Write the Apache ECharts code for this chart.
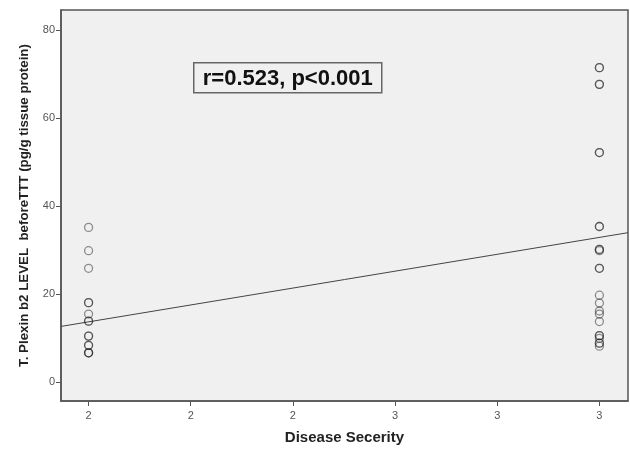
<!DOCTYPE html>
<html>
<head>
<meta charset="utf-8">
<script src="https://cdn.jsdelivr.net/npm/echarts@6/dist/echarts.min.js"></script>
<style>
  html, body { margin: 0; padding: 0; background: #fff; }
  #chart { width: 630px; height: 450px; }
</style>
</head>
<body>
<div id="chart"></div>
<script>
// x = disease severity group, y = Plexin b2 level
var groupTwo = [35.1, 29.8, 25.8, 18.0, 18.0, 15.4, 13.8, 13.8, 10.4, 10.4, 8.3, 8.3, 6.6, 6.6, 6.6];
var groupThree = [71.4, 71.4, 67.6, 67.6, 52.1, 52.1, 35.3, 35.3, 30.1, 30.1, 29.8, 25.8, 25.8,
                  19.7, 17.9, 16.1, 15.4, 13.7, 10.5, 10.5, 9.9, 8.8, 8.8, 8.1];
var xTicks = [2, 2.2, 2.4, 2.6, 2.8, 3];
var yTicks = [0, 20, 40, 60, 80];
// fit line end points (x, y)
var fitLine = [[1.946, 12.6], [3.056, 33.9]];
var statText = 'r=0.523, p<0.001';

var points = [];
groupTwo.forEach(function (v) { points.push([2, v]); });
groupThree.forEach(function (v) { points.push([3, v]); });

var chart = echarts.init(document.getElementById('chart'));
var font = 'Liberation Sans, Arial, sans-serif';

var option = {
    animation: false,
    grid: {
        left: 61, right: 2, top: 10, bottom: 45,
        show: true,
        backgroundColor: '#f0f0f0',
        borderColor: '#555',
        borderWidth: 1.5
    },
    xAxis: {
        type: 'value',
        min: 1.946, max: 3.056,
        name: 'Disease Secerity',
        nameLocation: 'middle',
        nameGap: 29,
        nameTextStyle: { fontFamily: font, fontSize: 15, fontWeight: 'bold', color: '#222' },
        axisLine: { show: true, onZero: false, lineStyle: { color: '#555', width: 1.5 } },
        axisTick: { show: true, length: 5, customValues: xTicks, lineStyle: { color: '#555' } },
        axisLabel: {
            customValues: xTicks,
            fontFamily: font, fontSize: 11, color: '#555', margin: 9,
            formatter: function (v) { return Math.round(v); }
        },
        splitLine: { show: false }
    },
    yAxis: {
        type: 'value',
        min: -4.35, max: 84.5,
        name: 'T. Plexin b2 LEVEL  beforeTTT (pg/g tissue protein)',
        nameLocation: 'middle',
        nameGap: 30,
        nameTextStyle: { fontFamily: font, fontSize: 13.3, fontWeight: 'bold', color: '#222' },
        axisLine: { show: true, onZero: false, lineStyle: { color: '#555', width: 1.5 } },
        axisTick: { show: true, length: 5, customValues: yTicks, lineStyle: { color: '#555' } },
        axisLabel: {
            customValues: yTicks,
            fontFamily: font, fontSize: 11, color: '#555', margin: 6
        },
        splitLine: { show: false }
    },
    graphic: [{
        type: 'group',
        left: 193, top: 62,
        children: [{
            type: 'rect',
            shape: { width: 188, height: 30 },
            style: { fill: '#f0f0f0', stroke: '#666', lineWidth: 1.5 }
        }, {
            type: 'text',
            x: 94, y: 16,
            style: {
                text: statText, fill: '#111', align: 'center', verticalAlign: 'middle',
                font: 'bold 22px ' + font
            }
        }]
    }],
    series: [{
        type: 'line',
        data: fitLine,
        symbol: 'none',
        lineStyle: { color: '#444', width: 1 },
        z: 2
    }, {
        type: 'scatter',
        data: points,
        symbol: 'circle',
        symbolSize: 8,
        itemStyle: { color: 'rgba(0,0,0,0)', borderColor: 'rgba(30,30,30,0.6)', borderWidth: 1.3 },
        z: 3
    }]
};
chart.setOption(option);
</script>
</body>
</html>
